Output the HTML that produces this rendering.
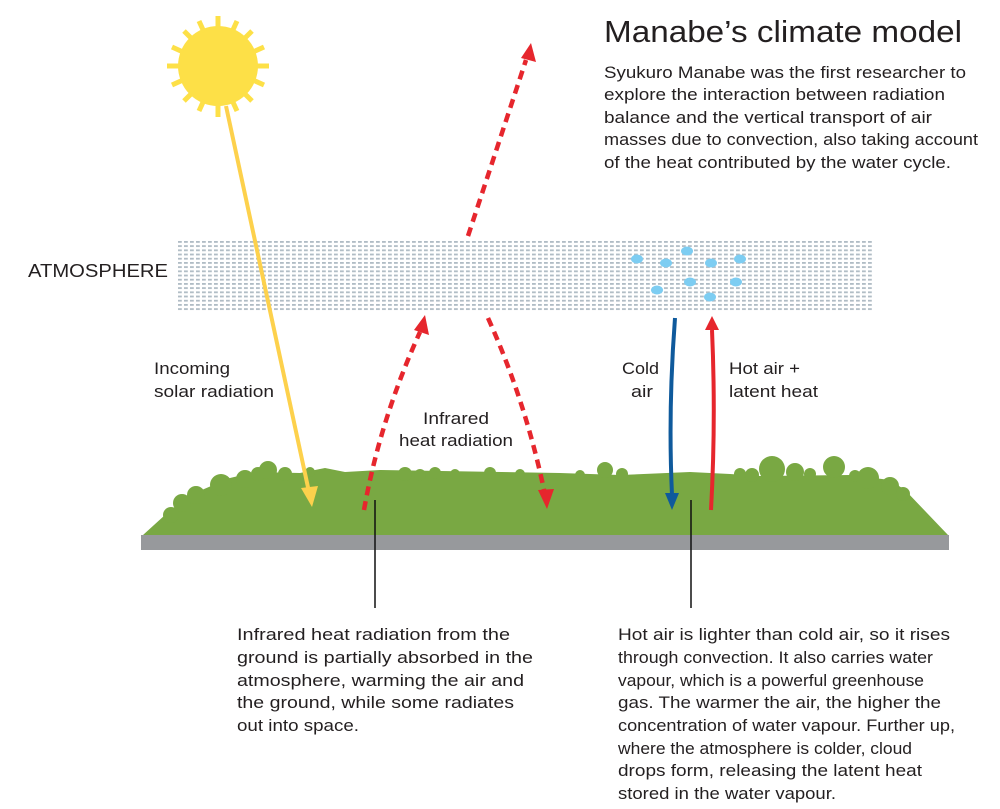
<!DOCTYPE html>
<html><head><meta charset="utf-8"><style>
html,body{margin:0;padding:0;background:#fff;}
svg{display:block;}
text{font-family:"Liberation Sans",sans-serif;fill:#231f20;}
</style></head><body>
<svg width="1000" height="809" viewBox="0 0 1000 809" xmlns="http://www.w3.org/2000/svg">
<defs>
<pattern id="atm" x="178" y="241" width="6" height="4.2" patternUnits="userSpaceOnUse">
<rect x="0" y="0" width="3.8" height="1.8" fill="#b0bcc5"/>
</pattern>
</defs>

<!-- atmosphere -->
<rect x="178" y="241" width="694" height="71" fill="url(#atm)"/>
<g fill="#7dcdf2">
<ellipse cx="637" cy="259" rx="6" ry="4.5"/>
<ellipse cx="666" cy="263" rx="6" ry="4.5"/>
<ellipse cx="687" cy="251" rx="6" ry="4.5"/>
<ellipse cx="711" cy="263" rx="6" ry="4.5"/>
<ellipse cx="740" cy="259" rx="6" ry="4.5"/>
<ellipse cx="657" cy="290" rx="6" ry="4.5"/>
<ellipse cx="690" cy="282" rx="6" ry="4.5"/>
<ellipse cx="736" cy="282" rx="6" ry="4.5"/>
<ellipse cx="710" cy="297" rx="6" ry="4.5"/>
</g>

<!-- ground -->
<rect x="141" y="535" width="808" height="15" fill="#97999c"/>
<g fill="#79a843">
<polygon points="143,535 165,515 190,495 230,478 255,472 300,473 325,468 345,472 380,470 560,473 620,475 690,472 730,474 760,476 850,475 890,480 905,490 948,535"/>
<circle cx="171" cy="515" r="8"/><circle cx="182" cy="503" r="9"/><circle cx="196" cy="495" r="9"/><circle cx="221" cy="485" r="11"/><circle cx="245" cy="479" r="9"/>
<circle cx="258" cy="474" r="7"/><circle cx="268" cy="470" r="9"/><circle cx="285" cy="474" r="7"/>
<circle cx="310" cy="472" r="5"/><circle cx="405" cy="474" r="7"/><circle cx="420" cy="475" r="6"/><circle cx="435" cy="473" r="6"/><circle cx="455" cy="474" r="5"/><circle cx="490" cy="473" r="6"/>
<circle cx="520" cy="474" r="5"/><circle cx="580" cy="475" r="5"/>
<circle cx="605" cy="470" r="8"/><circle cx="622" cy="474" r="6"/>
<circle cx="740" cy="474" r="6"/><circle cx="752" cy="475" r="7"/>
<circle cx="772" cy="469" r="13"/><circle cx="795" cy="472" r="9"/><circle cx="810" cy="474" r="6"/><circle cx="834" cy="467" r="11"/>
<circle cx="855" cy="476" r="6"/><circle cx="868" cy="478" r="11"/><circle cx="890" cy="486" r="9"/><circle cx="903" cy="494" r="7"/>
</g>

<!-- sun -->
<g fill="#fde047" stroke="#fde047">
<circle cx="218" cy="66" r="40" stroke="none"/>
<g stroke-width="5">
<line x1="218" y1="16" x2="218" y2="28"/><line x1="218" y1="104" x2="218" y2="117"/>
<line x1="167" y1="66" x2="180" y2="66"/><line x1="256" y1="66" x2="269" y2="66"/>
<line x1="199" y1="21" x2="204" y2="32"/><line x1="237" y1="21" x2="232" y2="32"/>
<line x1="199" y1="111" x2="204" y2="100"/><line x1="237" y1="111" x2="232" y2="100"/>
<line x1="172" y1="47" x2="183" y2="52"/><line x1="264" y1="47" x2="253" y2="52"/>
<line x1="172" y1="85" x2="183" y2="80"/><line x1="264" y1="85" x2="253" y2="80"/>
<line x1="184" y1="31" x2="192" y2="39"/><line x1="252" y1="31" x2="244" y2="39"/>
<line x1="184" y1="101" x2="192" y2="93"/><line x1="252" y1="101" x2="244" y2="93"/>
</g>
</g>
<line x1="226" y1="106" x2="309" y2="492" stroke="#fdd14c" stroke-width="4"/>
<polygon points="301,488 318,486 312,507" fill="#fdd14c"/>

<!-- red dashed -->
<g stroke="#e6262d" stroke-width="4.5" stroke-dasharray="9,6" fill="none">
<path d="M468,236 L526,60"/>
<path d="M364,510 Q380,420 420,332"/>
<path d="M488,318 Q525,400 544,490"/>
</g>
<g fill="#e6262d">
<polygon points="531,43 521,58 536,62"/>
<polygon points="425,315 414,330 429,335"/>
<polygon points="547,509 538,490 554,489"/>
</g>

<!-- convection arrows -->
<path d="M675,318 Q668,410 672,495" stroke="#0f5a9c" stroke-width="4" fill="none"/>
<polygon points="665,493 679,493 672,510" fill="#0f5a9c"/>
<path d="M711,510 Q716,420 712,330" stroke="#e6262d" stroke-width="4" fill="none"/>
<polygon points="705,330 719,330 712,316" fill="#e6262d"/>

<!-- leader lines -->
<line x1="375" y1="500" x2="375" y2="608" stroke="#111" stroke-width="1.5"/>
<line x1="691" y1="500" x2="691" y2="608" stroke="#111" stroke-width="1.5"/>

<!-- title & text -->
<text x="604" y="42" font-size="31" textLength="358" lengthAdjust="spacingAndGlyphs">Manabe’s climate model</text>
<g font-size="16.5">
<text x="604" y="78" textLength="362" lengthAdjust="spacingAndGlyphs">Syukuro Manabe was the first researcher to</text>
<text x="604" y="100" textLength="341" lengthAdjust="spacingAndGlyphs">explore the interaction between radiation</text>
<text x="604" y="123" textLength="328" lengthAdjust="spacingAndGlyphs">balance and the vertical transport of air</text>
<text x="604" y="145" textLength="374" lengthAdjust="spacingAndGlyphs">masses due to convection, also taking account</text>
<text x="604" y="168" textLength="347" lengthAdjust="spacingAndGlyphs">of the heat contributed by the water cycle.</text>

<text x="28" y="277" font-size="18" textLength="140" lengthAdjust="spacingAndGlyphs">ATMOSPHERE</text>
<text x="154" y="374" textLength="76" lengthAdjust="spacingAndGlyphs">Incoming</text>
<text x="154" y="397" textLength="120" lengthAdjust="spacingAndGlyphs">solar radiation</text>
<text x="423" y="424" textLength="66" lengthAdjust="spacingAndGlyphs">Infrared</text>
<text x="399" y="446" textLength="114" lengthAdjust="spacingAndGlyphs">heat radiation</text>
<text x="622" y="374" textLength="37" lengthAdjust="spacingAndGlyphs">Cold</text>
<text x="631" y="397" textLength="22" lengthAdjust="spacingAndGlyphs">air</text>
<text x="729" y="374" textLength="71" lengthAdjust="spacingAndGlyphs">Hot air +</text>
<text x="729" y="397" textLength="89" lengthAdjust="spacingAndGlyphs">latent heat</text>

<text x="237" y="640" textLength="273" lengthAdjust="spacingAndGlyphs">Infrared heat radiation from the</text>
<text x="237" y="663" textLength="296" lengthAdjust="spacingAndGlyphs">ground is partially absorbed in the</text>
<text x="237" y="686" textLength="287" lengthAdjust="spacingAndGlyphs">atmosphere, warming the air and</text>
<text x="237" y="708" textLength="277" lengthAdjust="spacingAndGlyphs">the ground, while some radiates</text>
<text x="237" y="731" textLength="122" lengthAdjust="spacingAndGlyphs">out into space.</text>

<text x="618" y="640" textLength="332" lengthAdjust="spacingAndGlyphs">Hot air is lighter than cold air, so it rises</text>
<text x="618" y="663" textLength="315" lengthAdjust="spacingAndGlyphs">through convection. It also carries water</text>
<text x="618" y="686" textLength="306" lengthAdjust="spacingAndGlyphs">vapour, which is a powerful greenhouse</text>
<text x="618" y="708" textLength="323" lengthAdjust="spacingAndGlyphs">gas. The warmer the air, the higher the</text>
<text x="618" y="731" textLength="337" lengthAdjust="spacingAndGlyphs">concentration of water vapour. Further up,</text>
<text x="618" y="754" textLength="294" lengthAdjust="spacingAndGlyphs">where the atmosphere is colder, cloud</text>
<text x="618" y="776" textLength="304" lengthAdjust="spacingAndGlyphs">drops form, releasing the latent heat</text>
<text x="618" y="799" textLength="218" lengthAdjust="spacingAndGlyphs">stored in the water vapour.</text>
</g>
</svg>
</body></html>
